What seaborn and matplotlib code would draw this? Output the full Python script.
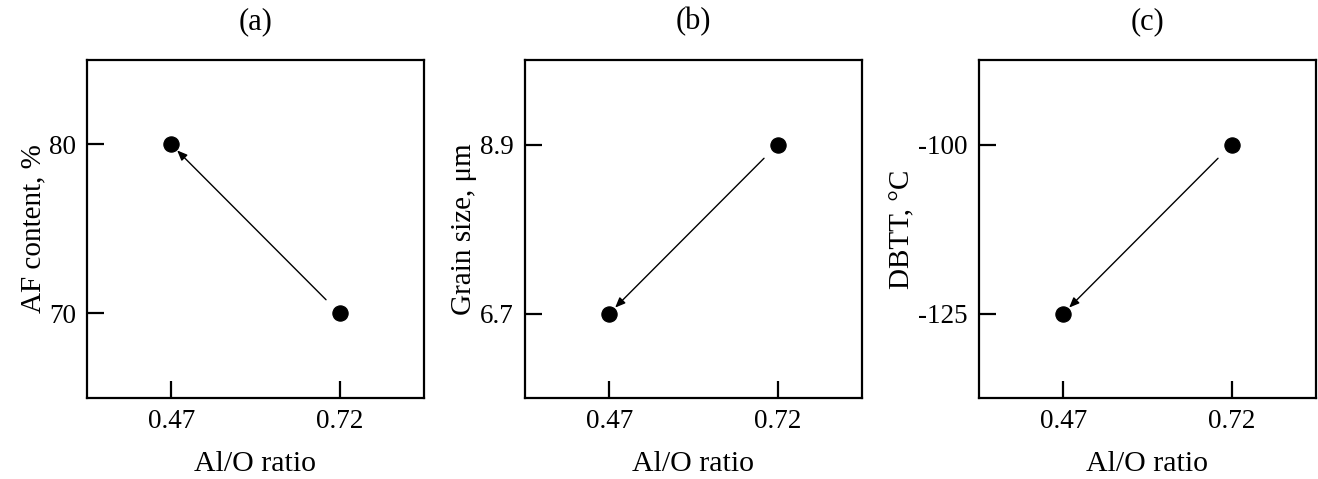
import matplotlib
matplotlib.use("Agg")
import matplotlib.pyplot as plt
import seaborn as sns
import pandas as pd

# DATA

ratio_labels = ["0.47", "0.72"]
af_content = [80, 70]
grain_size = [6.7, 8.9]
dbtt = [-125, -100]

panel_titles = ["(a)", "(b)", "(c)"]
y_labels = ["AF content, %", "Grain size, \u03bcm", "DBTT, \u00b0C"]
y_tick_labels = [["80", "70"], ["6.7", "8.9"], ["-125", "-100"]]
series = [af_content, grain_size, dbtt]

# STYLE

sns.set_style("ticks")
plt.rcParams['font.family'] = ['Liberation Serif', 'DejaVu Serif']
plt.rcParams['text.color'] = 'black'
plt.rcParams['axes.labelcolor'] = 'black'
plt.rcParams['xtick.color'] = 'black'
plt.rcParams['ytick.color'] = 'black'

fig = plt.figure(figsize=(13.18, 4.79), dpi=100)

lefts = [87, 525, 979]
for i, vals in enumerate(series):
    ax = fig.add_axes([lefts[i] / 1318, 81 / 479, 337 / 1318, 338 / 479])
    df = pd.DataFrame({"ratio": ratio_labels, "value": vals})
    sns.scatterplot(data=df, x="ratio", y="value", ax=ax,
                    color="black", s=120, edgecolor="black", zorder=3)

    # arrow from the 0.72 point to the 0.47 point
    ax.annotate("", xy=(0, vals[0]), xytext=(1, vals[1]),
                arrowprops=dict(arrowstyle="-|>,head_length=0.6,head_width=0.25",
                                color="black", lw=1.0,
                                shrinkA=14, shrinkB=6))

    lo, hi = min(vals), max(vals)
    d = hi - lo
    ax.set_ylim(lo - 0.5 * d, hi + 0.5 * d)
    ax.set_xlim(-0.5, 1.5)
    ax.set_yticks(vals)
    ax.set_yticklabels(y_tick_labels[i])
    ax.set_xticks([0, 1])
    ax.set_xticklabels(ratio_labels)

    ax.set_xlabel("Al/O ratio", fontsize=21.5, labelpad=12)
    ax.set_ylabel(y_labels[i], fontsize=21, labelpad=2)
    ax.set_title(panel_titles[i], fontsize=22, pad=22)

    for sp in ax.spines.values():
        sp.set_visible(True)
        sp.set_linewidth(1.6)
        sp.set_color("black")
    ax.tick_params(axis="both", labelsize=19.5, width=1.6,
                   direction="in", length=12, pad=8)

fig.savefig("out.png", dpi=100)
